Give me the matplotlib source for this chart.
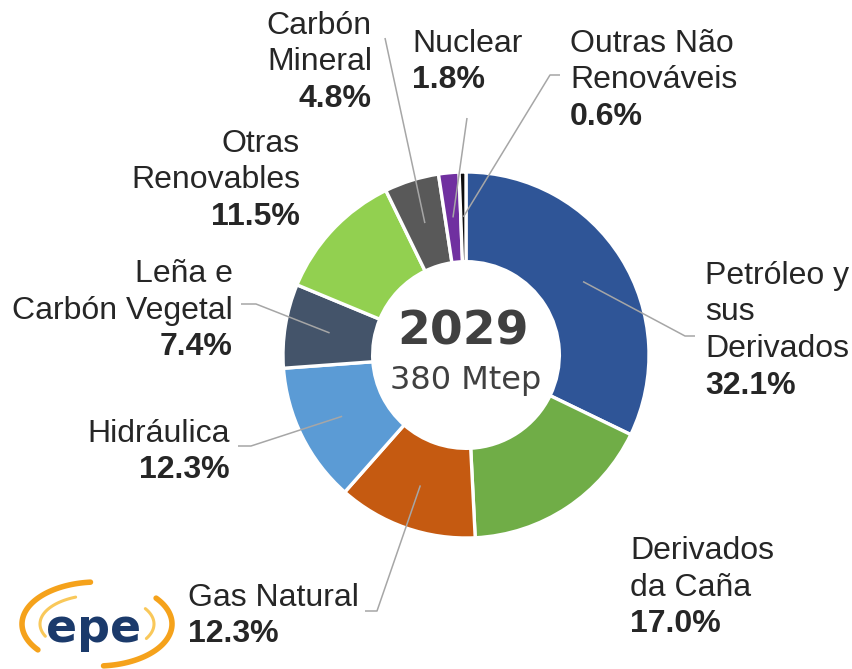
import numpy as np
import matplotlib
matplotlib.use('Agg')
import matplotlib.pyplot as plt

# datos
fuentes = ['Petróleo y\nsus\nDerivados', 'Derivados\nda Caña', 'Gas Natural', 'Hidráulica',
           'Leña e\nCarbón Vegetal', 'Otras\nRenovables', 'Carbón\nMineral', 'Nuclear',
           'Outras Não\nRenováveis']
valores = [32.1, 17.0, 12.3, 12.3, 7.4, 11.5, 4.8, 1.8, 0.6]
colores = ['#2F5597', '#70AD47', '#C55A11', '#5B9BD5', '#44546A', '#92D050',
           '#595959', '#7030A0', '#0D0D0D']
anio = '2029'
total = '380 Mtep'

# posiciones de etiquetas (x, y de la primera línea, alineación) y líneas guía
etiquetas = [
    (705, 284, 'left', (695, 336), (685, 336)),
    (630, 559, 'left', None, None),
    (188, 606, 'left', (365, 611), (377, 611)),
    (230, 442, 'right', (238, 446), (251, 446)),
    (233, 282, 'right', (241, 304), (256, 304)),
    (300, 152, 'right', None, None),
    (372, 34, 'right', (385, 38), (385, 38)),
    (412, 52, 'left', (467, 118), (467, 118)),
    (570, 52, 'left', (560, 75), (550, 75)),
]

cx, cy, R = 466, 355, 183
texto = '#262626'
guia = '#A6A6A6'
fuente = 'Liberation Sans'
fs = 23
paso = 36.5

fig = plt.figure(figsize=(8.53, 6.69), dpi=100)
ax = fig.add_axes([0, 0, 1, 1])
wedges, _ = ax.pie(valores, colors=colores, startangle=-90, counterclock=True,
                   center=(cx, cy), radius=R,
                   wedgeprops=dict(width=R * 0.49, edgecolor='white', linewidth=2.4))
ax.set_xlim(0, 853)
ax.set_ylim(669, 0)
ax.set_aspect('equal')
ax.axis('off')

for w, nombre, v, (lx, ly, ha, p0, p1) in zip(wedges, fuentes, valores, etiquetas):
    lineas = nombre.split('\n')
    for i, l in enumerate(lineas):
        ax.text(lx, ly + i * paso, l, ha=ha, va='baseline', fontsize=fs,
                family=fuente, color=texto)
    ax.text(lx, ly + len(lineas) * paso, f'{v:.1f}%', ha=ha, va='baseline',
            fontsize=fs, family=fuente, fontweight='bold', color=texto)
    if p0 is not None:
        # ángulo medio de la porción (en coordenadas visuales)
        ang = np.deg2rad((w.theta1 + w.theta2) / 2)
        ex = cx + 0.755 * R * np.cos(ang)
        ey = cy + 0.755 * R * np.sin(ang)
        ax.plot([p0[0], p1[0], ex], [p0[1], p1[1], ey], color=guia, lw=1.1,
                solid_capstyle='butt')

ax.text(cx - 3, 332, anio, ha='center', va='center', fontsize=34,
        family='DejaVu Sans', fontweight='bold', color='#404040')
ax.text(cx, 381, total, ha='center', va='center', fontsize=23,
        family='DejaVu Sans', color='#404040')

# logo epe
lx0, ly0 = 97, 624
t = np.deg2rad(np.linspace(95, 218, 60))
ax.plot(lx0 + 75 * np.cos(t), ly0 - 42 * np.sin(t), color='#F5A21B', lw=4,
        solid_capstyle='round')
t = np.deg2rad(np.linspace(-85, 38, 60))
ax.plot(lx0 + 75 * np.cos(t), ly0 - 42 * np.sin(t), color='#F5A21B', lw=4,
        solid_capstyle='round')
t = np.deg2rad(np.linspace(112, 205, 40))
ax.plot(lx0 + 57 * np.cos(t), ly0 - 29 * np.sin(t), color='#F9C85A', lw=2.2,
        solid_capstyle='round')
t = np.deg2rad(np.linspace(-30, 32, 40))
ax.plot(lx0 + 57 * np.cos(t), ly0 - 29 * np.sin(t), color='#F9C85A', lw=2.2,
        solid_capstyle='round')
ax.text(94, 642, 'epe', ha='center', va='baseline', fontsize=33,
        family='DejaVu Sans', fontweight='bold', color='#1B3A6B')

fig.savefig('out.png', dpi=100, facecolor='white')
